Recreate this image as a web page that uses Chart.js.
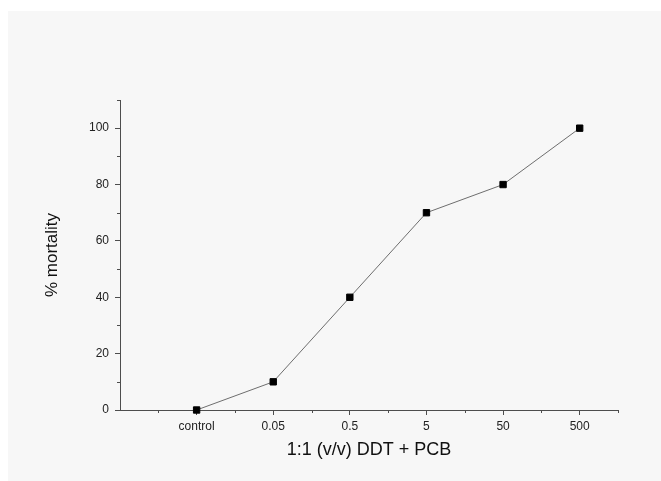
<!DOCTYPE html>
<html>
<head>
<meta charset="utf-8">
<script src="https://cdn.jsdelivr.net/npm/chart.js@4/dist/chart.umd.min.js"></script>
<style>
  html, body { margin: 0; padding: 0; background: #ffffff; }
  #wrap { width: 661px; height: 481px; }
</style>
</head>
<body>
<div id="wrap"><canvas id="c" width="661" height="481"></canvas></div>
<script>
// Dose groups and measured mortality
const categories = ['control', '0.05', '0.5', '5', '50', '500'];
const mortality = [0, 10, 40, 70, 80, 100];
const yTickLabels = [0, 20, 40, 60, 80, 100];

const AXIS = '#4d4d4d';
const FONT = 'Arial, "Liberation Sans", sans-serif';

// Panel background and short minor ticks
const panelPlugin = {
  id: 'panel',
  beforeDraw(chart) {
    const ctx = chart.ctx;
    ctx.save();
    ctx.fillStyle = '#ffffff';
    ctx.fillRect(0, 0, chart.width, chart.height);
    ctx.fillStyle = '#f7f7f7';
    ctx.fillRect(8, 11, chart.width - 8, chart.height - 11);
    ctx.restore();
  },
  afterDraw(chart) {
    const ctx = chart.ctx;
    const xs = chart.scales.x, ys = chart.scales.y;
    ctx.save();
    ctx.strokeStyle = AXIS;
    ctx.lineWidth = 1;
    ctx.beginPath();
    for (let v = 0.5; v <= 6.5; v += 1) {
      const px = Math.round(xs.getPixelForValue(v)) + 0.5;
      ctx.moveTo(px, xs.top);
      ctx.lineTo(px, xs.top + 3);
    }
    for (let v = 10; v <= 110; v += 20) {
      const py = Math.round(ys.getPixelForValue(v)) + 0.5;
      ctx.moveTo(ys.right, py);
      ctx.lineTo(ys.right - 3, py);
    }
    ctx.stroke();
    ctx.restore();
  }
};

new Chart(document.getElementById('c'), {
  type: 'line',
  data: {
    datasets: [{
      data: mortality.map((v, i) => ({ x: i + 1, y: v })),
      borderColor: '#6e6e6e',
      borderWidth: 1,
      pointStyle: 'rect',
      pointRadius: 4.5,
      pointHoverRadius: 4.5,
      pointBackgroundColor: '#000000',
      pointBorderColor: '#000000',
      pointBorderWidth: 1,
      tension: 0,
      clip: false
    }]
  },
  options: {
    responsive: false,
    animation: false,
    events: [],
    layout: { padding: { left: 0, top: 100, right: 43, bottom: 0 } },
    plugins: { legend: { display: false }, tooltip: { enabled: false } },
    scales: {
      x: {
        type: 'linear',
        min: 0,
        max: 6.5,
        afterFit(scale) { scale.height = 71; },
        afterBuildTicks(scale) {
          scale.ticks = [0, 1, 2, 3, 4, 5, 6].map(v => ({ value: v }));
        },
        border: { display: true, color: AXIS, width: 1 },
        grid: {
          drawOnChartArea: false,
          drawTicks: true,
          tickLength: 5,
          tickColor: ctx => (ctx.tick && ctx.tick.value === 0 ? 'rgba(0,0,0,0)' : AXIS)
        },
        ticks: {
          autoSkip: false,
          maxRotation: 0,
          padding: 4,
          color: '#222222',
          font: { family: FONT, size: 12 },
          callback: v => (v >= 1 && v <= categories.length ? categories[v - 1] : '')
        },
        title: {
          display: true,
          text: '1:1 (v/v) DDT + PCB',
          color: '#111111',
          font: { family: FONT, size: 18 },
          padding: { top: 0, bottom: 20 }
        }
      },
      y: {
        type: 'linear',
        min: 0,
        max: 110,
        afterFit(scale) { scale.width = 120; },
        afterBuildTicks(scale) {
          scale.ticks = yTickLabels.map(v => ({ value: v }));
        },
        border: { display: true, color: AXIS, width: 1 },
        grid: {
          drawOnChartArea: false,
          drawTicks: true,
          tickLength: 5,
          tickColor: AXIS
        },
        ticks: {
          autoSkip: false,
          padding: 6,
          color: '#222222',
          font: { family: FONT, size: 12 }
        },
        title: {
          display: true,
          text: '% mortality',
          color: '#111111',
          font: { family: FONT, size: 17 },
          padding: { top: 42, bottom: 0 }
        }
      }
    }
  },
  plugins: [panelPlugin]
});
</script>
</body>
</html>
